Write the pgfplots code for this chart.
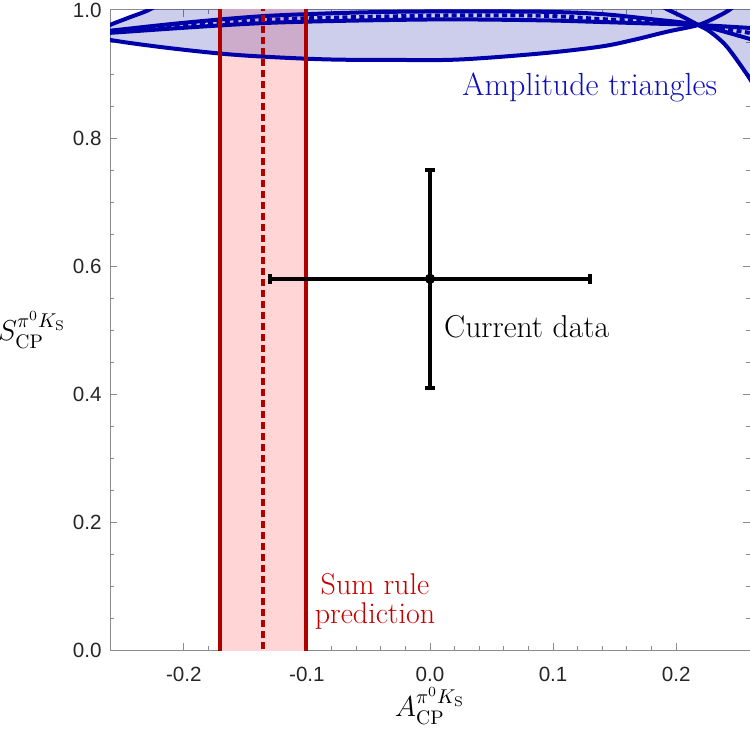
\documentclass[border=0pt,12pt]{standalone}
\usepackage{fontspec}
\usepackage{pgfplots}
\pgfplotsset{compat=1.18}
\newfontfamily\tickfont{Liberation Sans}
\definecolor{bline}{RGB}{0,0,170}
\definecolor{bfill}{RGB}{0,10,160}
\definecolor{btext}{RGB}{15,15,185}
\definecolor{rline}{RGB}{175,0,0}
\definecolor{rfill}{RGB}{255,213,213}
\definecolor{rtext}{RGB}{195,0,0}
\definecolor{framegray}{RGB}{140,140,140}
\begin{document}
\begin{tikzpicture}
\begin{axis}[
  scale only axis, width=320pt, height=320pt,
  xmin=-0.26, xmax=0.26, ymin=0, ymax=1,
  xtick={-0.2,-0.1,0,0.1,0.2},
  xticklabels={-0.2,-0.1,0.0,0.1,0.2},
  ytick={0,0.2,0.4,0.6,0.8,1},
  yticklabels={0.0,0.2,0.4,0.6,0.8,1.0},
  minor x tick num=4, minor y tick num=3,
  tick align=inside,
  major tick length=3.5pt, minor tick length=2pt,
  every tick/.style={framegray, line width=0.5pt},
  axis line style={framegray, line width=0.5pt},
  tick label style={font=\tickfont\fontsize{10.3}{12}\selectfont, text=black!85},
  x tick label style={yshift=-4.5pt},
  xlabel={$A_{\mathrm{CP}}^{\pi^0 K_{\mathrm{S}}}$},
  ylabel={$S_{\mathrm{CP}}^{\pi^0 K_{\mathrm{S}}}$},
  every axis x label/.style={at={(axis description cs:0.5,0)}, anchor=center, yshift=-28pt, font=\fontsize{14}{16}\selectfont},
  every axis y label/.style={at={(axis description cs:0,0.5)}, anchor=center, xshift=-39pt, font=\fontsize{14}{16}\selectfont},
]
% sum rule band
\addplot[draw=none, fill=rfill] coordinates {(-0.1707,-0.1) (-0.1008,-0.1) (-0.1008,1.1) (-0.1707,1.1)} -- cycle;

% amplitude triangle region (big closed curve, top part outside the axis)
\addplot[draw=bline, line width=2pt, fill=bfill, fill opacity=0.2, smooth, tension=0.55]
  coordinates {(-0.215,1.015) (-0.2285,1.0) (-0.2455,0.9875) (-0.2618,0.975) (-0.272,0.963)
  (-0.2618,0.954) (-0.2211,0.9427) (-0.1724,0.9323) (-0.1341,0.9270) (-0.0813,0.9227)
  (-0.0244,0.9219) (0.0244,0.9227) (0.0894,0.9320) (0.1382,0.9427) (0.1650,0.9531)
  (0.1927,0.9661) (0.2179,0.9766) (0.2333,0.9895) (0.2439,1.0011) (0.255,1.02)}
  -- (axis cs:0.255,1.3) -- (axis cs:-0.215,1.3) -- cycle;

% region right of the steep curve
\addplot[draw=none, fill=bfill, fill opacity=0.2]
  coordinates {(0.2179,0.9766) (0.2276,0.9661) (0.2412,0.9427) (0.2510,0.9200) (0.2588,0.8958) (0.27,0.86)
  (0.3,0.86) (0.3,1.2) (0.25,1.2) (0.2439,1.0011) (0.2333,0.9895)} -- cycle;

% steep curve
\addplot[bline, line width=2pt, smooth]
  coordinates {(0.185,1.01) (0.1927,1.0011) (0.2057,0.9891) (0.2179,0.9766) (0.2276,0.9661) (0.2412,0.9427) (0.2588,0.8958) (0.265,0.875)};

% narrow band lines
\addplot[bline, line width=2pt, smooth]
  coordinates {(-0.27,0.965) (-0.2618,0.9672) (-0.2,0.980) (-0.1341,0.9906) (-0.06,0.9960) (0,0.9977)
  (0.0894,0.9973) (0.1382,0.9938) (0.1789,0.9859) (0.2179,0.9766) (0.2602,0.9547) (0.27,0.950)};
\addplot[bline, line width=2pt, smooth]
  coordinates {(-0.27,0.963) (-0.2618,0.9641) (-0.1341,0.9797) (0,0.9852) (0.0894,0.9839)
  (0.1382,0.9813) (0.1789,0.9789) (0.2179,0.9766) (0.2602,0.9719) (0.27,0.970)};
\addplot[bline, line width=2pt, smooth, dash pattern=on 2.5pt off 1.7pt]
  coordinates {(-0.2618,0.9656) (-0.1341,0.9844) (0,0.9911) (0.0894,0.9911) (0.1382,0.9859)
  (0.1789,0.9820) (0.2179,0.9766) (0.2602,0.9641)};

% sum rule lines
\addplot[rline, line width=1.7pt] coordinates {(-0.1707,-0.05) (-0.1707,1.05)};
\addplot[rline, line width=1.7pt] coordinates {(-0.1008,-0.05) (-0.1008,1.05)};
\addplot[rline, line width=1.7pt, dash pattern=on 3.5pt off 2pt] coordinates {(-0.1358,-0.05) (-0.1358,1.05)};

% current data
\addplot[black, line width=1.8pt, mark=*, mark size=2.3pt, mark options={fill=black, solid, line width=0.5pt},
  error bars/.cd, x dir=both, x explicit, y dir=both, y explicit,
  error bar style={line width=1.8pt, black},
  error mark options={rotate=90, line width=2pt, mark size=2.5pt, black}]
  coordinates {(0,0.58) +- (0.13,0.17)};

\node[text=btext, font=\fontsize{16}{19}\selectfont] at (axis cs:0.1298,0.8797) {Amplitude triangles};
\node[text=black, font=\fontsize{15.8}{19}\selectfont] at (axis cs:0.0785,0.5047) {Current data};
\node[text=rtext, font=\fontsize{15}{14.8}\selectfont, align=center] at (axis cs:-0.0447,0.0760) {Sum rule\\prediction};
\end{axis}
\pgfresetboundingbox
\path ([xshift=-55pt,yshift=-40pt]current axis.south west) rectangle ([yshift=5pt]current axis.north east);
\end{tikzpicture}
\end{document}
